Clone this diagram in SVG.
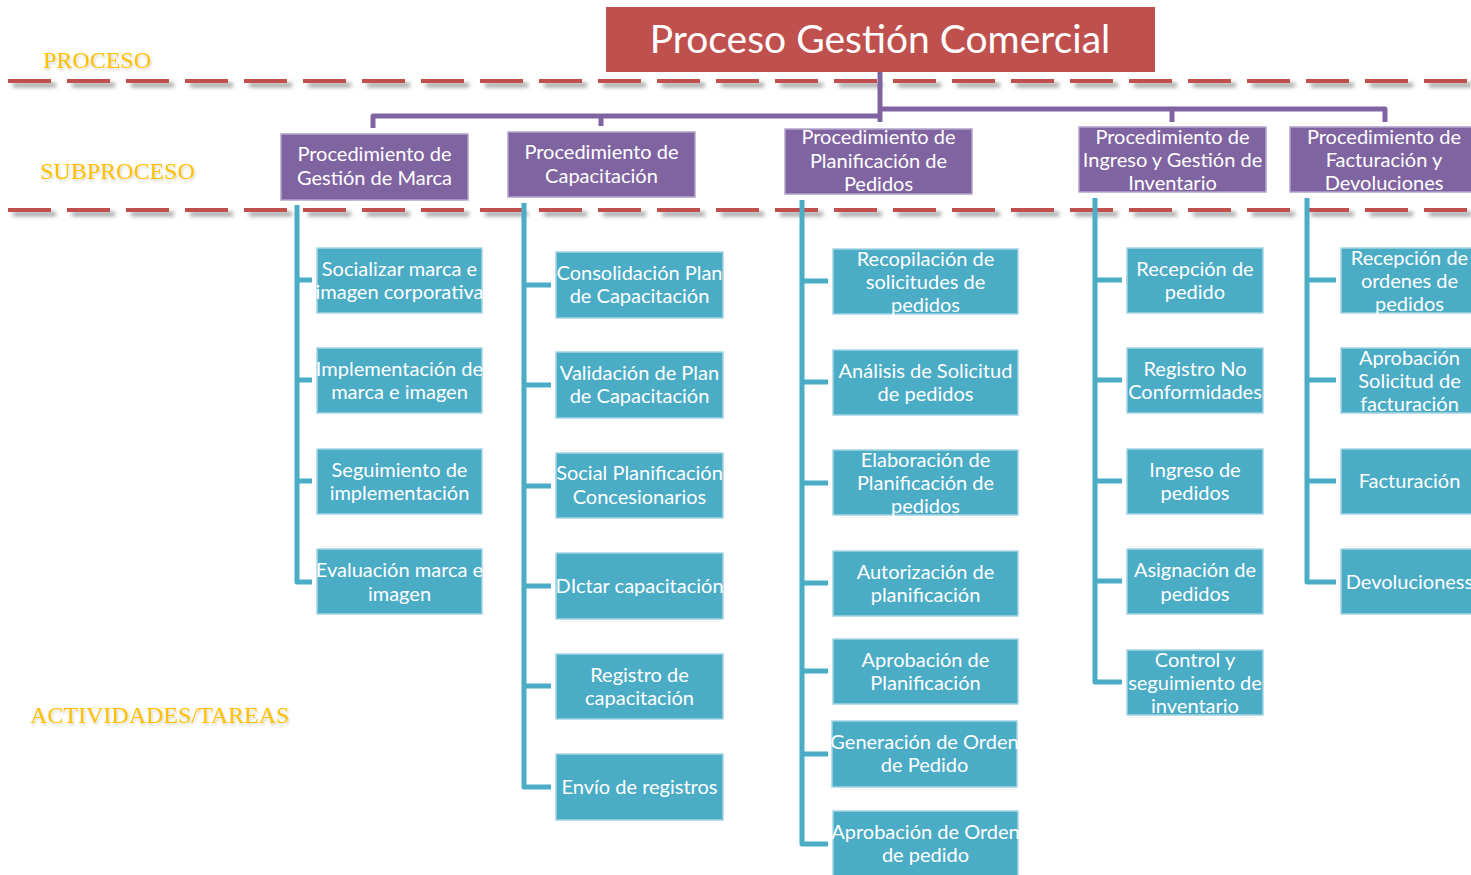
<svg xmlns="http://www.w3.org/2000/svg" width="1471" height="875" viewBox="0 0 1471 875">
  <defs>
    <filter id="lineShadow" x="-5%" y="-200%" width="110%" height="500%">
      <feDropShadow dx="5" dy="4" stdDeviation="2.2" flood-color="#7a7a7a" flood-opacity="0.8"/>
    </filter>
    <filter id="labelGlow" x="-10%" y="-40%" width="120%" height="180%">
      <feDropShadow dx="1" dy="2" stdDeviation="1.5" flood-color="#7a6a3a" flood-opacity="0.35"/>
    </filter>
  </defs>
  <style>
    .lane { fill: none; stroke: #C0504D; stroke-width: 4; stroke-dasharray: 43 16; }
    .label { font-family: "Liberation Serif", "Times New Roman", serif; font-size: 24px; fill: #FFC000; }
    .title-box { fill: #C0504D; }
    .title { font-family: Lato, "Liberation Sans", sans-serif; font-size: 39px; fill: #ffffff; text-anchor: middle; }
    .sub { fill: #8064A2; stroke: #b3a2cc; stroke-width: 1.5; }
    .task { fill: #4BACC6; stroke: #a5d5e3; stroke-width: 1.5; }
    .txt { font-family: Lato, "Liberation Sans", sans-serif; font-size: 20px; fill: #ffffff; text-anchor: middle; }
    .link-top { fill: none; stroke: #8064A2; stroke-width: 5; stroke-linejoin: round; }
    .link-task { fill: none; stroke: #4BACC6; stroke-width: 5; stroke-linejoin: round; }
  </style>

  <rect width="1471" height="875" fill="#ffffff"/>

  <!-- level labels -->
  <g id="level-labels" filter="url(#labelGlow)">
    <text class="label" x="43" y="68">PROCESO</text>
    <text class="label" x="40" y="179">SUBPROCESO</text>
    <text class="label" x="30" y="723">ACTIVIDADES/TAREAS</text>
  </g>

  <!-- level separators -->
  <g id="separators" filter="url(#lineShadow)">
    <line class="lane" x1="8" y1="81" x2="1471" y2="81"/>
    <line class="lane" x1="8" y1="210" x2="1471" y2="210"/>
  </g>

  <!-- connectors -->
  <g id="connectors">
    <path class="link-top" d="M880 72 V122 M880 116 H373 V128 M601 116 V126 M880 109 H1385 V122 M1172 109 V122"/>
    <path class="link-task" d="M297 205 V582 H312 M297 280 H312 M297 380 H312 M297 481 H312"/>
    <path class="link-task" d="M524 203 V787 H551 M524 285 H551 M524 385 H551 M524 486 H551 M524 586 H551 M524 686 H551"/>
    <path class="link-task" d="M802 200 V844 H828 M802 281 H828 M802 382 H828 M802 483 H828 M802 583 H828 M802 671 H828 M802 754 H828"/>
    <path class="link-task" d="M1095 198 V682 H1122 M1095 280 H1122 M1095 380 H1122 M1095 481 H1122 M1095 581 H1122"/>
    <path class="link-task" d="M1307 198 V582 H1336 M1307 280 H1336 M1307 380 H1336 M1307 481 H1336"/>
  </g>

  <!-- process -->
  <g id="proceso">
    <rect class="title-box" x="606" y="7" width="549" height="65"/>
    <text class="title" x="880" y="53">Proceso Gestión Comercial</text>
  </g>

  <!-- subprocesses -->
  <g id="sub-marca">
    <rect class="sub" x="281" y="134" width="187" height="66"/>
    <text class="txt" x="374.5" y="161">Procedimiento de</text>
    <text class="txt" x="374.5" y="185">Gestión de Marca</text>
  </g>
  <g id="sub-capacitacion">
    <rect class="sub" x="508" y="132" width="187" height="65"/>
    <text class="txt" x="601.5" y="159">Procedimiento de</text>
    <text class="txt" x="601.5" y="183">Capacitación</text>
  </g>
  <g id="sub-planificacion">
    <rect class="sub" x="785" y="129" width="187" height="65"/>
    <text class="txt" x="878.5" y="144">Procedimiento de</text>
    <text class="txt" x="878.5" y="168">Planificación de</text>
    <text class="txt" x="878.5" y="191">Pedidos</text>
  </g>
  <g id="sub-inventario">
    <rect class="sub" x="1079" y="127" width="187" height="65"/>
    <text class="txt" x="1172.5" y="144">Procedimiento de</text>
    <text class="txt" x="1172.5" y="167">Ingreso y Gestión de</text>
    <text class="txt" x="1172.5" y="190">Inventario</text>
  </g>
  <g id="sub-facturacion">
    <rect class="sub" x="1290" y="127" width="190" height="65"/>
    <text class="txt" x="1384" y="144">Procedimiento de</text>
    <text class="txt" x="1384" y="167">Facturación y</text>
    <text class="txt" x="1384" y="190">Devoluciones</text>
  </g>

  <!-- tasks: Gestión de Marca -->
  <g id="t-socializar">
    <rect class="task" x="317" y="248" width="165" height="65"/>
    <text class="txt" x="399.5" y="276">Socializar marca e</text>
    <text class="txt" x="399.5" y="299">imagen corporativa</text>
  </g>
  <g id="t-implementacion">
    <rect class="task" x="317" y="348" width="165" height="65"/>
    <text class="txt" x="399.5" y="376">Implementación de</text>
    <text class="txt" x="399.5" y="399">marca e imagen</text>
  </g>
  <g id="t-seguimiento">
    <rect class="task" x="317" y="449" width="165" height="65"/>
    <text class="txt" x="399.5" y="477">Seguimiento de</text>
    <text class="txt" x="399.5" y="500">implementación</text>
  </g>
  <g id="t-evaluacion">
    <rect class="task" x="317" y="549" width="165" height="65"/>
    <text class="txt" x="399.5" y="577">Evaluación marca e</text>
    <text class="txt" x="399.5" y="601">imagen</text>
  </g>

  <!-- tasks: Capacitación -->
  <g id="t-consolidacion">
    <rect class="task" x="556" y="252" width="167" height="66"/>
    <text class="txt" x="639.5" y="280">Consolidación Plan</text>
    <text class="txt" x="639.5" y="303">de Capacitación</text>
  </g>
  <g id="t-validacion">
    <rect class="task" x="556" y="352" width="167" height="66"/>
    <text class="txt" x="639.5" y="380">Validación de Plan</text>
    <text class="txt" x="639.5" y="403">de Capacitación</text>
  </g>
  <g id="t-social">
    <rect class="task" x="556" y="453" width="167" height="65"/>
    <text class="txt" x="639.5" y="480">Social Planificación</text>
    <text class="txt" x="639.5" y="504">Concesionarios</text>
  </g>
  <g id="t-dictar">
    <rect class="task" x="556" y="553" width="167" height="66"/>
    <text class="txt" x="639.5" y="593">DIctar capacitación</text>
  </g>
  <g id="t-registro-cap">
    <rect class="task" x="556" y="654" width="167" height="65"/>
    <text class="txt" x="639.5" y="682">Registro de</text>
    <text class="txt" x="639.5" y="705">capacitación</text>
  </g>
  <g id="t-envio">
    <rect class="task" x="556" y="754" width="167" height="66"/>
    <text class="txt" x="639.5" y="794">Envío de registros</text>
  </g>

  <!-- tasks: Planificación de Pedidos -->
  <g id="t-recopilacion">
    <rect class="task" x="833" y="249" width="185" height="65"/>
    <text class="txt" x="925.5" y="266">Recopilación de</text>
    <text class="txt" x="925.5" y="289">solicitudes de</text>
    <text class="txt" x="925.5" y="312">pedidos</text>
  </g>
  <g id="t-analisis">
    <rect class="task" x="833" y="350" width="185" height="65"/>
    <text class="txt" x="925.5" y="378">Análisis de Solicitud</text>
    <text class="txt" x="925.5" y="401">de pedidos</text>
  </g>
  <g id="t-elaboracion">
    <rect class="task" x="833" y="450" width="185" height="65"/>
    <text class="txt" x="925.5" y="467">Elaboración de</text>
    <text class="txt" x="925.5" y="490">Planificación de</text>
    <text class="txt" x="925.5" y="513">pedidos</text>
  </g>
  <g id="t-autorizacion">
    <rect class="task" x="833" y="551" width="185" height="65"/>
    <text class="txt" x="925.5" y="579">Autorización de</text>
    <text class="txt" x="925.5" y="602">planificación</text>
  </g>
  <g id="t-aprobacion-plan">
    <rect class="task" x="833" y="639" width="185" height="65"/>
    <text class="txt" x="925.5" y="667">Aprobación de</text>
    <text class="txt" x="925.5" y="690">Planificación</text>
  </g>
  <g id="t-generacion">
    <rect class="task" x="832" y="721" width="185" height="66"/>
    <text class="txt" x="924.5" y="749">Generación de Orden</text>
    <text class="txt" x="924.5" y="772">de Pedido</text>
  </g>
  <g id="t-aprobacion-orden">
    <rect class="task" x="833" y="811" width="185" height="66"/>
    <text class="txt" x="925.5" y="839">Aprobación de Orden</text>
    <text class="txt" x="925.5" y="862">de pedido</text>
  </g>

  <!-- tasks: Ingreso y Gestión de Inventario -->
  <g id="t-recepcion-pedido">
    <rect class="task" x="1127" y="248" width="136" height="65"/>
    <text class="txt" x="1195" y="276">Recepción de</text>
    <text class="txt" x="1195" y="299">pedido</text>
  </g>
  <g id="t-no-conformidades">
    <rect class="task" x="1127" y="348" width="136" height="65"/>
    <text class="txt" x="1195" y="376">Registro No</text>
    <text class="txt" x="1195" y="399">Conformidades</text>
  </g>
  <g id="t-ingreso">
    <rect class="task" x="1127" y="449" width="136" height="65"/>
    <text class="txt" x="1195" y="477">Ingreso de</text>
    <text class="txt" x="1195" y="500">pedidos</text>
  </g>
  <g id="t-asignacion">
    <rect class="task" x="1127" y="549" width="136" height="65"/>
    <text class="txt" x="1195" y="577">Asignación de</text>
    <text class="txt" x="1195" y="601">pedidos</text>
  </g>
  <g id="t-control">
    <rect class="task" x="1127" y="650" width="136" height="65"/>
    <text class="txt" x="1195" y="667">Control y</text>
    <text class="txt" x="1195" y="690">seguimiento de</text>
    <text class="txt" x="1195" y="713">inventario</text>
  </g>

  <!-- tasks: Facturación y Devoluciones -->
  <g id="t-recepcion-ordenes">
    <rect class="task" x="1341" y="248" width="140" height="65"/>
    <text class="txt" x="1409.5" y="265">Recepción de</text>
    <text class="txt" x="1409.5" y="288">ordenes de</text>
    <text class="txt" x="1409.5" y="311">pedidos</text>
  </g>
  <g id="t-aprobacion-fact">
    <rect class="task" x="1341" y="348" width="140" height="65"/>
    <text class="txt" x="1409.5" y="365">Aprobación</text>
    <text class="txt" x="1409.5" y="388">Solicitud de</text>
    <text class="txt" x="1409.5" y="411">facturación</text>
  </g>
  <g id="t-facturacion">
    <rect class="task" x="1341" y="449" width="140" height="65"/>
    <text class="txt" x="1409.5" y="488">Facturación</text>
  </g>
  <g id="t-devoluciones">
    <rect class="task" x="1341" y="549" width="140" height="65"/>
    <text class="txt" x="1409.5" y="589">Devolucioness</text>
  </g>
</svg>
